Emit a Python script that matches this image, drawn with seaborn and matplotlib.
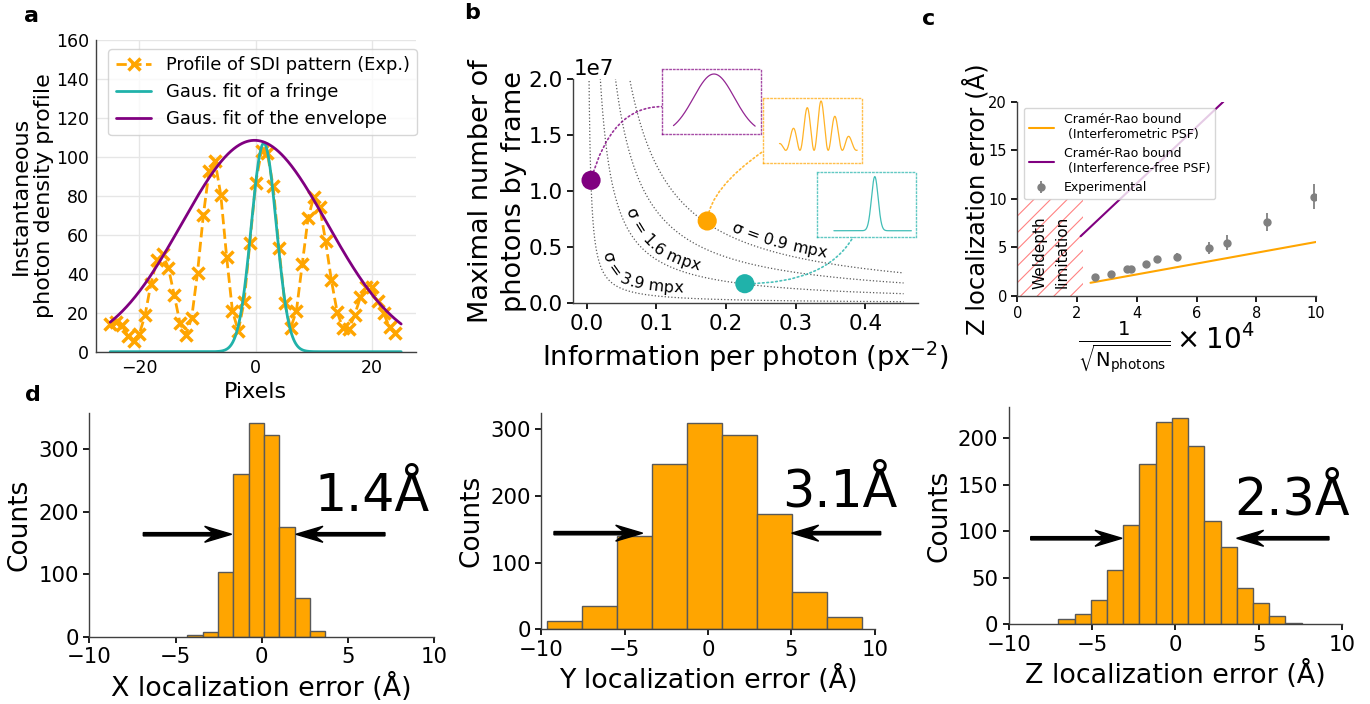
import numpy as np
import pandas as pd
import matplotlib
matplotlib.use("Agg")
import matplotlib.pyplot as plt
import seaborn as sns
from matplotlib.patches import ConnectionPatch, Rectangle
from matplotlib.font_manager import FontProperties

# ---------------- data ----------------
# (a) single-frame SDI profile and Gaussian fits
pixels = np.arange(-25, 25)
profile = [14, 15, 13.7, 8, 5.6, 9, 19, 35, 47, 50, 43, 29, 14.5, 8.6, 17.5,
           40.6, 70, 93, 98, 80.5, 48.8, 21, 10.6, 25.5, 56, 86.8, 103, 102,
           84.8, 53, 24.8, 12, 21, 45, 68.5, 79.6, 74.5, 57, 36.8, 20.4, 12,
           11.5, 18.8, 28, 33, 33, 26, 19.7, 12.5, 9.4]
fringe_fit = dict(amp=107.0, mu=1.4, sigma=2.15)
envelope_fit = dict(amp=108.5, mu=-0.2, sigma=12.5)
fringe_period = 9.1
fringe_phase = 1.8

# (b) iso-precision contours and the three measured configurations
sigma_mpx = [3.9, 1.6, 1.1, 0.9]
sigma_labels = {3.9: "σ = 3.9 mpx", 1.6: "σ = 1.6 mpx", 0.9: "σ = 0.9 mpx"}
config_info = [0.0062, 0.173, 0.227]
config_photons = [1.098e7, 0.735e7, 0.175e7]

# (c) axial precision vs 1/sqrt(N)
exp_x = [2.59, 3.14, 3.66, 3.82, 4.32, 4.68, 5.36, 6.41, 7.03, 8.35, 9.94]
exp_z = [1.96, 2.23, 2.74, 2.74, 3.29, 3.77, 4.01, 4.91, 5.49, 7.62, 10.22]
exp_err = [0.2, 0.2, 0.25, 0.25, 0.3, 0.35, 0.45, 0.6, 0.8, 0.9, 1.3]
crb_interf_x = [2.45, 10.0]
crb_interf_z = [1.36, 5.56]
crb_free_x = [2.12, 6.9]
crb_free_z = [6.15, 20.0]
welldepth_x = 2.2
welldepth_z = 10.0

# (d) localization error histograms
x_bins = (-4.32, 3.69, 9)
x_counts = [3, 8, 103, 260, 341, 323, 176, 63, 10]
y_bins = (-9.68, 9.22, 9)
y_counts = [12, 35, 140, 248, 309, 291, 172, 56, 18]
z_bins = (-7.02, 7.58, 15)
z_counts = [6, 11, 26, 58, 107, 172, 217, 222, 191, 111, 83, 39, 23, 9, 1]
precisions = ["1.4Å", "3.1Å", "2.3Å"]

ORANGE = "#FFA500"
TEAL = "#20B2AA"
PURPLE = "#800080"

sns.set_theme(style="ticks", rc={
    "text.color": "black", "axes.labelcolor": "black",
    "xtick.color": "black", "ytick.color": "black",
    "axes.edgecolor": "0.25", "axes.linewidth": 1.0,
    "xtick.major.size": 4, "ytick.major.size": 4,
    "hatch.linewidth": 0.8,
})
plt.rcParams["font.family"] = ["DejaVu Sans"]

W, H = 1370, 704
fig = plt.figure(figsize=(W / 100, H / 100), dpi=100)


def rect(l, t, r, b):
    return [l / W, 1 - b / H, (r - l) / W, (b - t) / H]


def gauss(x, amp, mu, sigma):
    return amp * np.exp(-(x - mu) ** 2 / (2 * sigma ** 2))


# ---------------- (a) ----------------
ax_a = fig.add_axes(rect(95.7, 40, 415.7, 351.7))
xf = np.linspace(-25, 25, 500)
sns.lineplot(x=pixels, y=profile, ax=ax_a, color=ORANGE, linestyle="--",
             linewidth=2, marker="x", markersize=8, markeredgewidth=2.5,
             markeredgecolor=ORANGE, label="Profile of SDI pattern (Exp.)")
sns.lineplot(x=xf, y=gauss(xf, **fringe_fit), ax=ax_a, color=TEAL,
             linewidth=2, label="Gaus. fit of a fringe")
sns.lineplot(x=xf, y=gauss(xf, **envelope_fit), ax=ax_a, color=PURPLE,
             linewidth=2, label="Gaus. fit of the envelope")
ax_a.set_xlim(-27.5, 27.5)
ax_a.set_ylim(0, 160)
ax_a.set_yticks(np.arange(0, 161, 20))
ax_a.set_xticks([-20, 0, 20])
ax_a.grid(True, color="#e6e6e6", linewidth=1)
ax_a.set_axisbelow(True)
ax_a.tick_params(length=0, labelsize=12.5, pad=5)
ax_a.set_xlabel("Pixels", fontsize=16)
ax_a.set_ylabel("Instantaneous\nphoton density profile", fontsize=16, labelpad=1)
ax_a.legend(loc="upper right", fontsize=12.9, bbox_to_anchor=(1.032, 1.0))
sns.despine(ax=ax_a)

# ---------------- (b) ----------------
ax_b = fig.add_axes(rect(573.3, 79.3, 918, 303.3))
info = np.geomspace(0.003, 0.455, 600)
curves = {}
for s in sigma_mpx:
    n = 1.0 / ((s * 1e-3) ** 2 * info)
    curves[s] = n
    sns.lineplot(x=info, y=n, ax=ax_b, color="0.35", linewidth=0.9,
                 linestyle=":")
sns.scatterplot(x=config_info, y=config_photons, hue=[0, 1, 2],
                palette=[PURPLE, ORANGE, TEAL], s=190, linewidth=0,
                legend=False, ax=ax_b, zorder=4)
ax_b.set_xlim(-0.0193, 0.4757)
ax_b.set_ylim(0, 2e7)
ax_b.set_xticks([0, 0.1, 0.2, 0.3, 0.4])
ax_b.set_yticks([0, 0.5e7, 1e7, 1.5e7, 2e7])
ax_b.tick_params(labelsize=15.5)
ax_b.yaxis.get_offset_text().set_fontsize(15.5)
ax_b.set_xlabel("Information per photon (px$^{-2}$)", fontsize=19.5)
ax_b.set_ylabel("Maximal number of\nphotons by frame", fontsize=19.5,
                labelpad=1, linespacing=1.35)
sns.despine(ax=ax_b)


def text_along_curve(ax, text, xs, ys, x_start, offset_px, fontsize):
    """Write text character by character along a curve, offset to its upper-right side."""
    renderer = ax.figure.canvas.get_renderer()
    pts = ax.transData.transform(np.column_stack([xs, ys]))
    tang = np.gradient(pts, axis=0)
    tang /= np.hypot(tang[:, 0], tang[:, 1])[:, None]
    normal = np.column_stack([-tang[:, 1], tang[:, 0]])
    off = pts + offset_px * normal
    seg = np.diff(off, axis=0)
    arc = np.concatenate([[0], np.cumsum(np.hypot(seg[:, 0], seg[:, 1]))])
    s0 = np.interp(x_start, xs, arc)
    prop = FontProperties(size=fontsize)
    base = renderer.get_text_width_height_descent("||", prop, ismath=False)[0]
    pos = s0
    inv = ax.transData.inverted()
    for ch in text:
        w = renderer.get_text_width_height_descent("|" + ch + "|", prop,
                                                   ismath=False)[0] - base
        c = pos + w / 2
        p1 = np.array([np.interp(c - 3, arc, off[:, 0]), np.interp(c - 3, arc, off[:, 1])])
        p2 = np.array([np.interp(c + 3, arc, off[:, 0]), np.interp(c + 3, arc, off[:, 1])])
        p = (p1 + p2) / 2
        d = p2 - p1
        xd, yd = inv.transform(p)
        if ch != " ":
            ax.text(xd, yd, ch, fontsize=fontsize, rotation=np.degrees(np.arctan2(d[1], d[0])),
                    rotation_mode="anchor", ha="center", va="baseline", clip_on=False)
        pos += w


label_start = {3.9: 0.0150, 1.6: 0.048, 0.9: 0.203}
for s, lab in sigma_labels.items():
    text_along_curve(ax_b, lab, info, curves[s], label_start[s], 5, 11.5)

# small insets with the PSF profiles
ins_rects = [rect(661.7, 69.3, 760.7, 134), rect(762.7, 98.3, 861.7, 163.3),
             rect(816.7, 172.3, 915.7, 236.7)]
fringes = 0.2 / 0.77 * envelope_fit["amp"] + gauss(xf, **envelope_fit) * \
    np.cos(np.pi * (xf - fringe_phase) / fringe_period) ** 2
ins_curves = [gauss(xf, **envelope_fit), fringes, gauss(xf, **fringe_fit)]
ins_xlim = [(-32.2, 28.4), (-35.8, 27.9), (-36.1, 27.8)]
ins_ylim = [(0, 117), (0, 141.2), (-11.8, 115.5)]
ins_colors = [PURPLE, ORANGE, TEAL]
ins_axes = []
for r, yv, xl, yl, col in zip(ins_rects, ins_curves, ins_xlim, ins_ylim, ins_colors):
    ia = fig.add_axes(r)
    sns.lineplot(x=xf, y=yv, ax=ia, color=col, linewidth=0.9, alpha=0.85)
    ia.set_xlim(*xl)
    ia.set_ylim(*yl)
    ia.set_xticks([])
    ia.set_yticks([])
    ia.set_xlabel("")
    ia.set_ylabel("")
    for sp in ia.spines.values():
        sp.set_linestyle(":")
        sp.set_color(col)
        sp.set_alpha(0.7)
        sp.set_linewidth(1.0)
    ins_axes.append(ia)

conn_targets = [(0.0, 0.423), (0.0, 0.18), (0.37, 0.0)]
conn_styles = ["angle3,angleA=75,angleB=0", "angle3,angleA=85,angleB=35",
               "angle3,angleA=0,angleB=60"]
for i in range(3):
    con = ConnectionPatch(xyA=(config_info[i], config_photons[i]), coordsA=ax_b.transData,
                          xyB=conn_targets[i], coordsB=ins_axes[i].transAxes,
                          connectionstyle=conn_styles[i], linestyle=":",
                          color=ins_colors[i], linewidth=1.2, alpha=0.8,
                          shrinkA=0, shrinkB=0, zorder=2)
    con.set_clip_on(False)
    ax_b.add_artist(con)

# ---------------- (c) ----------------
ax_c = fig.add_axes(rect(1017.3, 101.7, 1316, 296))
ax_c.add_patch(Rectangle((0, 0), welldepth_x, welldepth_z, facecolor="none",
                         edgecolor=(1.0, 0.3, 0.3, 0.7), hatch="//", linewidth=0))
ax_c.text(1.13, 4.5, "Weldepth\nlimitation", rotation=90, linespacing=1.55,
          ha="center", va="center", fontsize=11)
sns.lineplot(x=crb_interf_x, y=crb_interf_z, ax=ax_c, color=ORANGE, linewidth=1.5,
             label="Cramér-Rao bound\n (Interferometric PSF)")
sns.lineplot(x=crb_free_x, y=crb_free_z, ax=ax_c, color=PURPLE, linewidth=1.5,
             label="Cramér-Rao bound\n (Interference-free PSF)")
ax_c.errorbar(exp_x, exp_z, yerr=exp_err, fmt="o", color="gray", ms=5,
              elinewidth=1.3, capsize=0, label="Experimental")
ax_c.set_xlim(0, 10)
ax_c.set_ylim(0, 20)
ax_c.set_xticks([0, 2, 4, 6, 8, 10])
ax_c.set_yticks([0, 5, 10, 15, 20])
ax_c.tick_params(labelsize=10.5)
ax_c.legend(loc="upper left", fontsize=9)
ax_c.set_ylabel("Z localization error (Å)", fontsize=17.5, labelpad=-1)
ax_c.set_xlabel(r"$\frac{1}{\sqrt{\mathrm{N_{photons}}}}\times 10^4$", fontsize=20,
                labelpad=-1)
sns.despine(ax=ax_c)

# ---------------- (d) ----------------
hist_specs = [
    (rect(89.3, 412.7, 434.3, 637), x_bins, x_counts, "X localization error (Å)",
     precisions[0], (6.37, 201.5), 164, (-6.87, -1.75), (7.14, 1.98)),
    (rect(541.3, 412.7, 874.7, 629.3), y_bins, y_counts, "Y localization error (Å)",
     precisions[1], (7.92, 183.6), 144, (-9.24, -3.92), (10.36, 5.02)),
    (rect(1008.7, 407.3, 1342, 624.3), z_bins, z_counts, "Z localization error (Å)",
     precisions[2], (6.98, 117.9), 92.4, (-8.68, -3.2), (9.22, 3.68)),
]
for r, (lo, hi, nb), counts, xlabel, prec, tpos, ya, left_arr, right_arr in hist_specs:
    ax = fig.add_axes(r)
    edges = np.linspace(lo, hi, nb + 1)
    centers = (edges[:-1] + edges[1:]) / 2
    df = pd.DataFrame({"err": centers, "n": counts})
    sns.histplot(data=df, x="err", weights="n", bins=list(edges), ax=ax,
                 color=ORANGE, edgecolor="0.35", linewidth=1, alpha=1)
    ax.set_xlim(-10, 10)
    ax.set_xticks([-10, -5, 0, 5, 10])
    ax.tick_params(labelsize=15.3)
    ax.set_xlabel(xlabel, fontsize=19.4)
    ax.set_ylabel("Counts", fontsize=19)
    sns.despine(ax=ax)
    bb = ax.get_window_extent()
    y0, y1 = ax.get_ylim()
    py = (y1 - y0) / bb.height
    px = 20.0 / bb.width
    for xs_, xe_ in (left_arr, right_arr):
        ax.arrow(xs_, ya, xe_ - xs_, 0, width=3.3 * py, head_width=16 * py,
                 head_length=27 * px, overhang=0.3, length_includes_head=True,
                 color="black", clip_on=False, zorder=5)
    ax.text(tpos[0], tpos[1], prec, fontsize=36.5, ha="center", va="baseline")

# panel letters
for letter, (x, y) in {"a": (31.7, 21.7), "b": (472.5, 19.3), "c": (929, 25),
                       "d": (32.5, 401)}.items():
    fig.text(x / W, 1 - y / H, letter, fontsize=16, fontweight="bold",
             ha="center", va="baseline")

fig.savefig("out.png", dpi=100)
